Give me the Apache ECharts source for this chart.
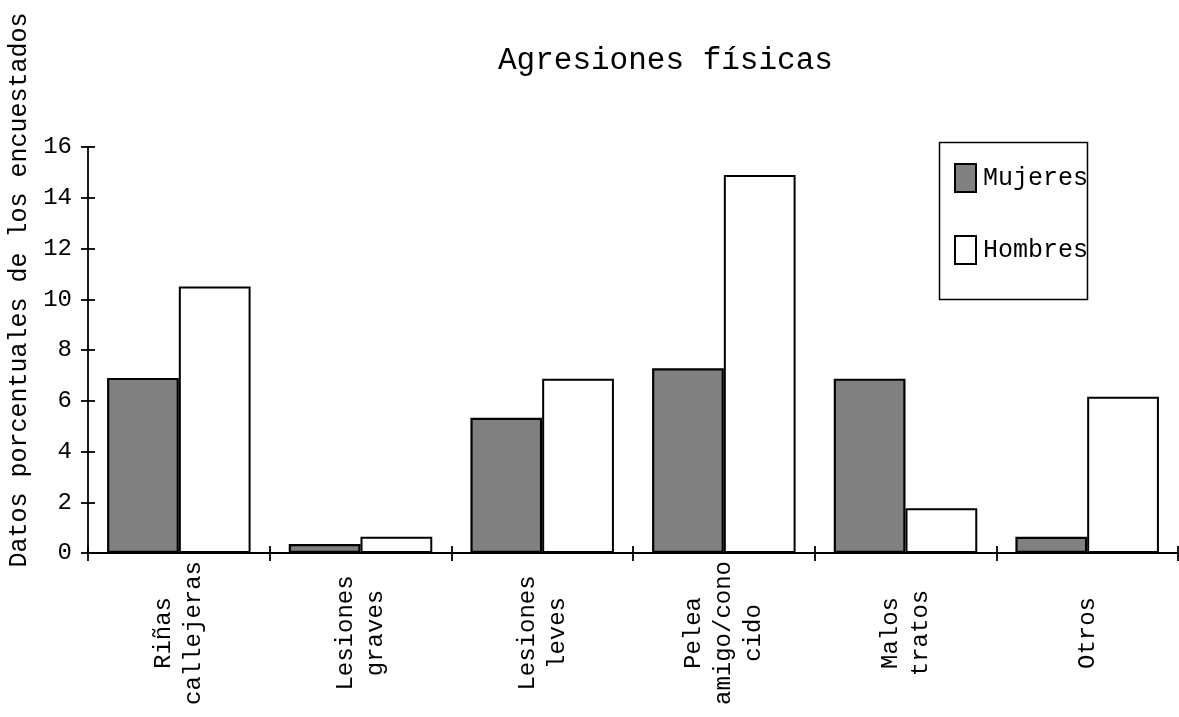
<!DOCTYPE html>
<html>
<head>
<meta charset="utf-8">
<title>Agresiones físicas</title>
<script src="https://cdn.jsdelivr.net/npm/echarts@6/dist/echarts.min.js"></script>
<style>
  html, body { margin: 0; padding: 0; background: #fff; }
  #chart { width: 1179px; height: 717px; }
</style>
</head>
<body>
<div id="chart"></div>
<script>
// Categories (line breaks as printed under the axis)
const categories = [
  'Riñas\ncallejeras',
  'Lesiones\ngraves',
  'Lesiones\nleves',
  'Pelea\namigo/cono\ncido',
  'Malos\ntratos',
  'Otros'
];
// Percentages per group
const mujeres = [6.9, 0.35, 5.33, 7.28, 6.87, 0.64];
const hombres = [10.5, 0.64, 6.87, 14.9, 1.76, 6.16];
const seriesNames = ['Mujeres', 'Hombres'];
const yTicks = { min: 0, max: 16, interval: 2 };

const FONT = '"Liberation Mono", "Courier New", monospace';
const chart = echarts.init(document.getElementById('chart'), null, { renderer: 'canvas' });

const grid = { left: 88, right: 1, top: 147, bottom: 164, containLabel: false, outerBoundsMode: 'none' };

chart.setOption({
  backgroundColor: '#fff',
  animation: false,
  title: {
    text: 'Agresiones físicas',
    left: 493,
    top: 40,
    textStyle: { fontFamily: FONT, fontSize: 31, fontWeight: 'normal', color: '#000' }
  },
  legend: {
    orient: 'vertical',
    left: 954,
    top: 163,
    itemWidth: 21,
    itemHeight: 28,
    itemGap: 42,
    padding: 0,
    icon: 'rect',
    data: seriesNames,
    textStyle: { fontFamily: FONT, fontSize: 25, color: '#000', padding: [8, 0, 0, 2] }
  },
  graphic: [{
    type: 'rect',
    left: 937,
    top: 140,
    shape: { width: 148, height: 157 },
    style: { fill: 'none', stroke: '#000', lineWidth: 1.5 },
    z: 1
  }],
  grid: grid,
  xAxis: [{
    type: 'category',
    data: categories,
    axisLine: { lineStyle: { color: '#000', width: 1.8 } },
    axisTick: { show: true, length: 8, lineStyle: { color: '#000', width: 1.8 } },
    axisLabel: {
      interval: 0,
      rotate: 90,
      align: 'center',
      verticalAlign: 'middle',
      margin: 80,
      lineHeight: 30,
      fontFamily: FONT,
      fontSize: 24,
      color: '#000'
    },
    splitLine: { show: false }
  }, {
    // companion axis: draws the inner half of each crossing tick
    type: 'category',
    data: categories,
    position: 'bottom',
    axisLine: { show: false },
    axisTick: { show: true, inside: true, length: 7, lineStyle: { color: '#000', width: 1.8 } },
    axisLabel: { show: false },
    splitLine: { show: false }
  }],
  yAxis: [{
    type: 'value',
    min: yTicks.min,
    max: yTicks.max,
    interval: yTicks.interval,
    name: 'Datos porcentuales de los encuestados',
    nameLocation: 'middle',
    nameGap: 56,
    nameRotate: 90,
    nameTextStyle: { fontFamily: FONT, fontSize: 25, color: '#000', padding: [0, 0, 0, 120] },
    axisLine: { show: true, lineStyle: { color: '#000', width: 1.8 } },
    axisTick: { show: true, length: 7, lineStyle: { color: '#000', width: 1.8 } },
    axisLabel: { margin: 16, fontFamily: FONT, fontSize: 24, color: '#000' },
    splitLine: { show: false }
  }, {
    type: 'value',
    min: yTicks.min,
    max: yTicks.max,
    interval: yTicks.interval,
    position: 'left',
    axisLine: { show: false },
    axisTick: { show: true, inside: true, length: 7, lineStyle: { color: '#000', width: 1.8 } },
    axisLabel: { show: false },
    splitLine: { show: false }
  }],
  series: [{
    name: seriesNames[0],
    type: 'bar',
    data: mujeres,
    barGap: '0%',
    barCategoryGap: '21%',
    itemStyle: { color: '#808080', borderColor: '#000', borderWidth: 2.2 }
  }, {
    name: seriesNames[1],
    type: 'bar',
    data: hombres,
    barGap: '0%',
    barCategoryGap: '21%',
    itemStyle: { color: '#fff', borderColor: '#000', borderWidth: 2 }
  }]
});
</script>
</body>
</html>
